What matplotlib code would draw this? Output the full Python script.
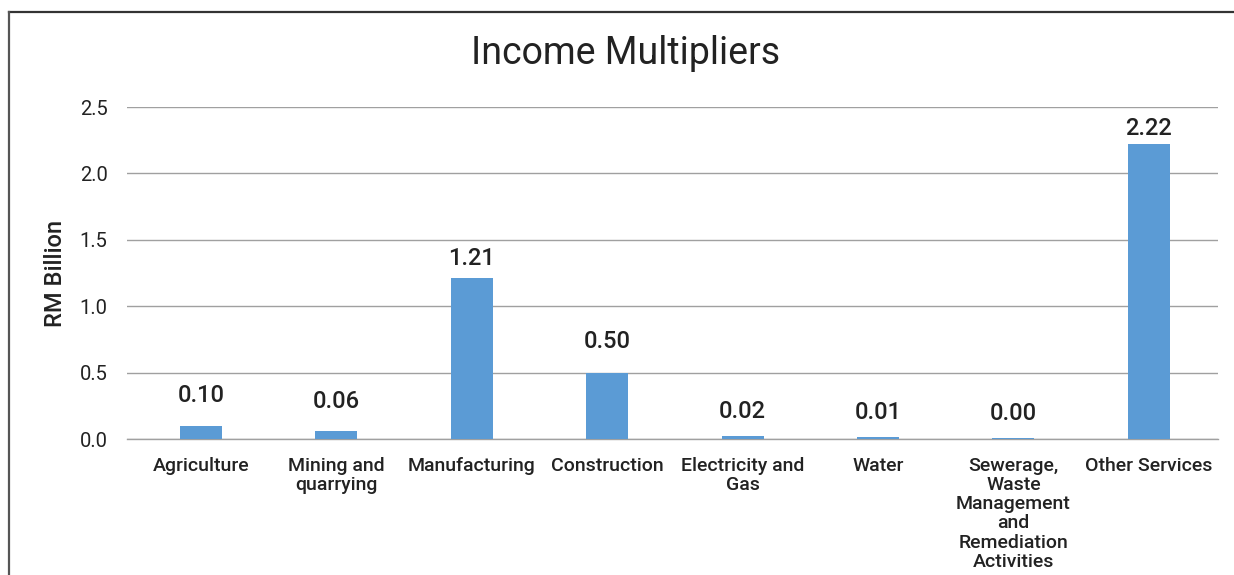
import matplotlib
matplotlib.use("Agg")
from matplotlib import pyplot as plt
from matplotlib.lines import Line2D

plt.rcParams['font.family'] = ['Roboto', 'DejaVu Sans']

# Income multipliers by sector (RM billion)
sectors = ["Agriculture", "Mining and\nquarrying", "Manufacturing", "Construction",
           "Electricity and\nGas", "Water",
           "Sewerage,\nWaste\nManagement\nand\nRemediation\nActivities",
           "Other Services"]
multipliers = [0.10, 0.06, 1.21, 0.50, 0.024, 0.014, 0.004, 2.22]
yticks = [0.0, 0.5, 1.0, 1.5, 2.0, 2.5]

# gap between bar top and its value label, in pixels
label_gap = [19, 18, 8, 20, 13, 13, 13, 4]

fig = plt.figure(figsize=(12.34, 5.75), dpi=100)
ax = fig.add_axes([0.1029, 0.2365, 0.884, 0.5774])

x = range(len(sectors))
bars = ax.bar(x, multipliers, width=0.31, color="#5b9bd5", zorder=3)

for b, v, gap in zip(bars, multipliers, label_gap):
    ax.annotate("%.2f" % v, (b.get_x() + b.get_width() / 2, b.get_height()),
                xytext=(0, gap), textcoords="offset pixels",
                ha="center", va="bottom", fontsize=17, fontweight="medium",
                color="#222222")

ax.set_xlim(-0.547, 7.51)
ax.set_ylim(0, 2.5)
ax.set_yticks(yticks)
ax.set_yticklabels(["%.1f" % t for t in yticks], fontsize=14.5, color="#222222")
ax.set_xticks(list(x))
ax.set_xticklabels(sectors, fontsize=14, fontweight="medium", color="#222222",
                   linespacing=1.08, va="top", ha="center")
ax.tick_params(axis="both", length=0)
ax.tick_params(axis="x", pad=13)
ax.tick_params(axis="y", pad=14)
ax.grid(axis="y", color="#a0a0a0", linewidth=1)
for side in ["top", "right", "left"]:
    ax.spines[side].set_visible(False)
ax.spines["bottom"].set_color("#a0a0a0")
ax.spines["bottom"].set_linewidth(1)

ax.set_ylabel("RM Billion", fontsize=17, fontweight="medium", color="#222222",
              labelpad=9)

fig.text(0.507, 0.907, "Income Multipliers", ha="center", va="center",
         fontsize=27, color="#222222")

# outer frame (top and left edges only)
fig.add_artist(Line2D([0.0073, 1.0], [0.979, 0.979], transform=fig.transFigure,
                      color="#333333", linewidth=1.6))
fig.add_artist(Line2D([0.0073, 0.0073], [0.0, 0.979], transform=fig.transFigure,
                      color="#555555", linewidth=1.6))

plt.savefig("out.png", dpi=100)
